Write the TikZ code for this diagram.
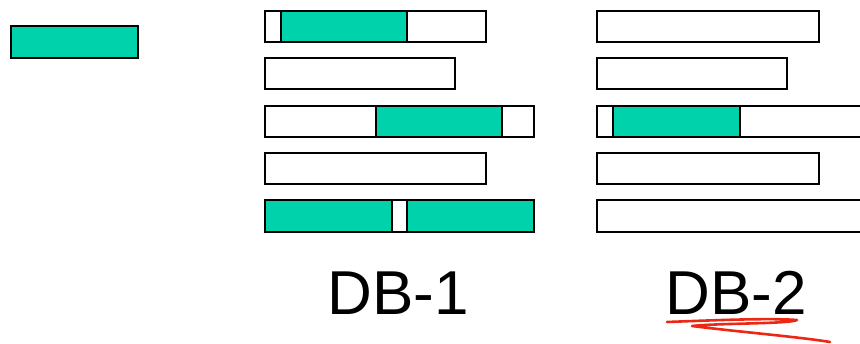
\documentclass[tikz,border=0pt]{standalone}
\usepackage{fontspec}
\setmainfont{Liberation Sans}
\definecolor{tealfill}{RGB}{0,210,172}
\definecolor{inkred}{RGB}{235,40,20}
\begin{document}
\begin{tikzpicture}[x=1pt,y=-1pt,
  bar/.style={draw=black,line width=2pt,fill=white},
  seg/.style={draw=black,line width=2pt,fill=tealfill},
  lbl/.style={font=\fontsize{62}{62}\selectfont,anchor=base,inner sep=0pt}]
\useasboundingbox (0,0) rectangle (860,344);
% single block
\draw[seg] (11,26) rectangle (138,58);
% DB-1
\draw[bar] (265,11) rectangle (486,42);
\draw[seg] (281,11) rectangle (407,42);
\draw[bar] (265,58) rectangle (455,89);
\draw[bar] (265,106) rectangle (534,137);
\draw[seg] (376,106) rectangle (502,137);
\draw[bar] (265,153) rectangle (486,184);
\draw[bar] (265,200) rectangle (534,232);
\draw[seg] (265,200) rectangle (392,232);
\draw[seg] (407,200) rectangle (534,232);
% DB-2
\draw[bar] (597,11) rectangle (819,42);
\draw[bar] (597,58) rectangle (787,89);
\draw[bar] (597,106) rectangle (866,137);
\draw[seg] (613,106) rectangle (740,137);
\draw[bar] (597,153) rectangle (819,184);
\draw[bar] (597,200) rectangle (866,232);
% labels
\node[lbl] (db1) at (398,315) {DB-1};
\node[lbl] (db2) at (736,315) {DB-2};
% red underline
\draw[inkred,line width=2.6pt,line cap=round,line join=round]
  (667,322) .. controls (720,320) and (770,318) .. (797,320)
  .. controls (790,324) and (720,323) .. (692,326)
  .. controls (740,332) and (800,337) .. (830,342);
\end{tikzpicture}
\end{document}
